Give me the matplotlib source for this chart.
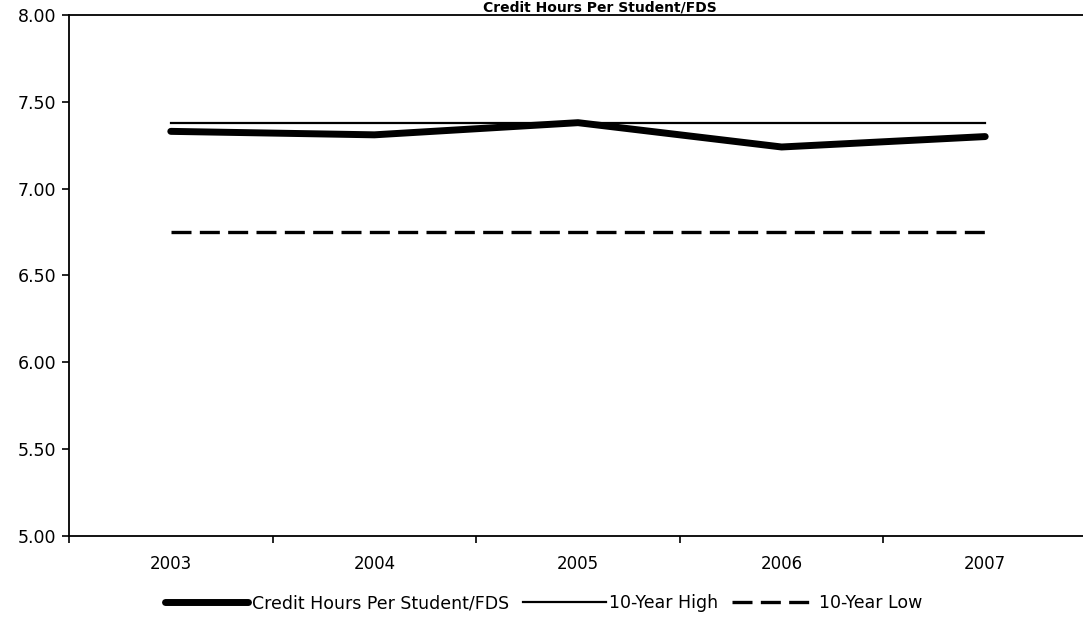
import matplotlib
matplotlib.use("Agg")
from matplotlib import pyplot
from matplotlib.ticker import FixedLocator

years = ["2003", "2004", "2005", "2006", "2007"]
credit_hours = [7.33, 7.31, 7.38, 7.24, 7.30]
ten_year_high = [7.38, 7.38, 7.38, 7.38, 7.38]
ten_year_low = [6.75, 6.75, 6.75, 6.75, 6.75]
y_ticks = [5.00, 5.50, 6.00, 6.50, 7.00, 7.50, 8.00]

pyplot.rcParams['font.family'] = ['DejaVu Sans']

fig = pyplot.figure(figsize=(10.83, 6.2), dpi=100)
ax = fig.add_axes([0.0637, 0.1355, 0.940, 0.8403])

x = list(range(len(years)))
ax.plot(x, credit_hours, color='k', linewidth=5, solid_capstyle='round',
        label="Credit Hours Per Student/FDS")
ax.plot(x, ten_year_high, color='k', linewidth=1.6, label="10-Year High")
ax.plot(x, ten_year_low, color='k', linewidth=2.4, dashes=(6, 2.5), label="10-Year Low")

ax.set_xlim(-0.5, len(years) - 0.5)
ax.set_ylim(5.0, 8.0)
ax.set_xticks(x)
ax.set_xticklabels(years, fontsize=12)
ax.xaxis.set_minor_locator(FixedLocator([i - 0.5 for i in range(len(years) + 1)]))
ax.tick_params(axis='x', which='major', length=0, pad=14)
ax.tick_params(axis='x', which='minor', length=5, width=1.2, direction='out')
ax.set_yticks(y_ticks)
ax.set_yticklabels(["{:.2f}".format(v) for v in y_ticks], fontsize=12.5)
ax.tick_params(axis='y', length=5, width=1.2, direction='out', pad=4)
for s in ax.spines.values():
    s.set_linewidth(1.3)

fig.text(0.554, 1 - 0.5 / 620, "Credit Hours Per Student/FDS", fontsize=10,
         fontweight='bold', ha='center', va='top')

fig.legend(loc='center', bbox_to_anchor=(0.502, 0.027), ncol=3, frameon=False,
           fontsize=12.5, handlelength=4.8, handletextpad=0.2, columnspacing=0.8)

pyplot.savefig("out.png")
